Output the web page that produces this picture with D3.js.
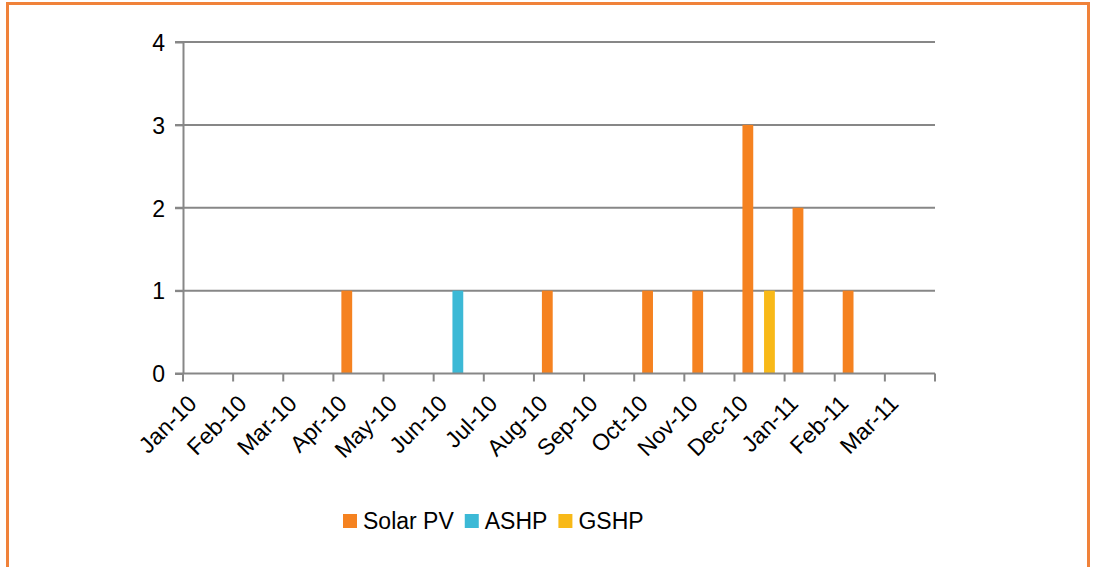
<!DOCTYPE html>
<html>
<head>
<meta charset="utf-8">
<script src="https://cdn.jsdelivr.net/npm/d3@7"></script>
<style>
  body { margin: 0; background: #fff; }
  text { font-family: "Liberation Sans", Arial, Helvetica, sans-serif; fill: #000; }
</style>
</head>
<body>
<script>
var months = ["Jan-10", "Feb-10", "Mar-10", "Apr-10", "May-10", "Jun-10", "Jul-10", "Aug-10",
    "Sep-10", "Oct-10", "Nov-10", "Dec-10", "Jan-11", "Feb-11", "Mar-11"];
var solarPV = [0, 0, 0, 1, 0, 0, 0, 1, 0, 1, 1, 3, 2, 1, 0];
var ashp = [0, 0, 0, 0, 0, 1, 0, 0, 0, 0, 0, 0, 0, 0, 0];
var gshp = [0, 0, 0, 0, 0, 0, 0, 0, 0, 0, 0, 1, 0, 0, 0];
var seriesNames = ["Solar PV", "ASHP", "GSHP"];
var yTicks = [0, 1, 2, 3, 4];

var colors = { "Solar PV": "#F58220", "ASHP": "#3CB9D6", "GSHP": "#F8B918" };
var gridColor = "#878787";

var svg = d3.select("body")
    .append("svg")
    .attr("width", 1095)
    .attr("height", 567);

// orange frame
svg.append("rect")
    .attr("x", 7.5).attr("y", 3.5)
    .attr("width", 1081).attr("height", 620)
    .attr("fill", "none")
    .attr("stroke", "#F0823A")
    .attr("stroke-width", 3);

var x = d3.scaleBand().domain(months).range([183, 935]);
var xs = d3.scaleBand().domain(seriesNames).range([0, x.bandwidth()]).paddingOuter(0.82).align(0.45);
var y = d3.scaleLinear().domain([0, 4]).range([373.5, 42]);

// gridlines
svg.append("g")
    .selectAll("line")
    .data(yTicks.slice(1))
    .enter().append("line")
    .attr("x1", 175).attr("x2", 935)
    .attr("y1", d => y(d)).attr("y2", d => y(d))
    .attr("stroke", gridColor)
    .attr("stroke-width", 2);

// y axis
var yAxis = svg.append("g")
    .attr("transform", "translate(183,0)")
    .call(d3.axisLeft(y).tickValues(yTicks).tickFormat(d3.format("d")).tickSize(8).tickSizeOuter(0).tickPadding(10));
yAxis.select(".domain").attr("stroke", gridColor).attr("stroke-width", 2);
yAxis.selectAll(".tick line").attr("stroke", gridColor).attr("stroke-width", 2);
yAxis.selectAll("text").attr("font-size", 23).attr("dy", "0.36em")
    .style("font-family", "'Liberation Sans', Arial, Helvetica, sans-serif").attr("fill", "#000");

// bars
var table = seriesNames.map(function (name, s) {
    var vals = [solarPV, ashp, gshp][s];
    return months.map(function (m, i) { return { series: name, month: m, value: vals[i] }; });
});

svg.append("g")
    .selectAll("g")
    .data(table)
    .enter().append("g")
    .attr("fill", d => colors[d[0].series])
    .selectAll("rect")
    .data(d => d.filter(v => v.value > 0))
    .enter().append("rect")
    .attr("x", d => x(d.month) + xs(d.series))
    .attr("width", xs.bandwidth())
    .attr("y", d => y(d.value))
    .attr("height", d => y(0) - y(d.value));

// x axis line and ticks on category boundaries
var xAxis = svg.append("g");
xAxis.append("line")
    .attr("x1", 175).attr("x2", 935)
    .attr("y1", y(0)).attr("y2", y(0))
    .attr("stroke", gridColor).attr("stroke-width", 2);
xAxis.selectAll(".xtick")
    .data(months.map(m => x(m)).concat([x.range()[1]]))
    .enter().append("line")
    .attr("class", "xtick")
    .attr("x1", d => d).attr("x2", d => d)
    .attr("y1", y(0)).attr("y2", y(0) + 8)
    .attr("stroke", gridColor).attr("stroke-width", 2);
xAxis.selectAll("text")
    .data(months)
    .enter().append("text")
    .attr("text-anchor", "end")
    .attr("font-size", 23)
    .attr("transform", d => "translate(" + (x(d) + 15) + "," + 405 + ") rotate(-45)")
    .text(d => d);

// legend
var legend = svg.append("g").attr("transform", "translate(343,514)");
var lx = 0;
seriesNames.forEach(function (name) {
    var item = legend.append("g").attr("transform", "translate(" + lx + ",0)");
    item.append("rect").attr("width", 14).attr("height", 14).attr("fill", colors[name]);
    var t = item.append("text").attr("x", 20).attr("y", 15).attr("font-size", 23).text(name);
    lx += 20 + t.node().getComputedTextLength() + 11;
});
</script>
</body>
</html>
